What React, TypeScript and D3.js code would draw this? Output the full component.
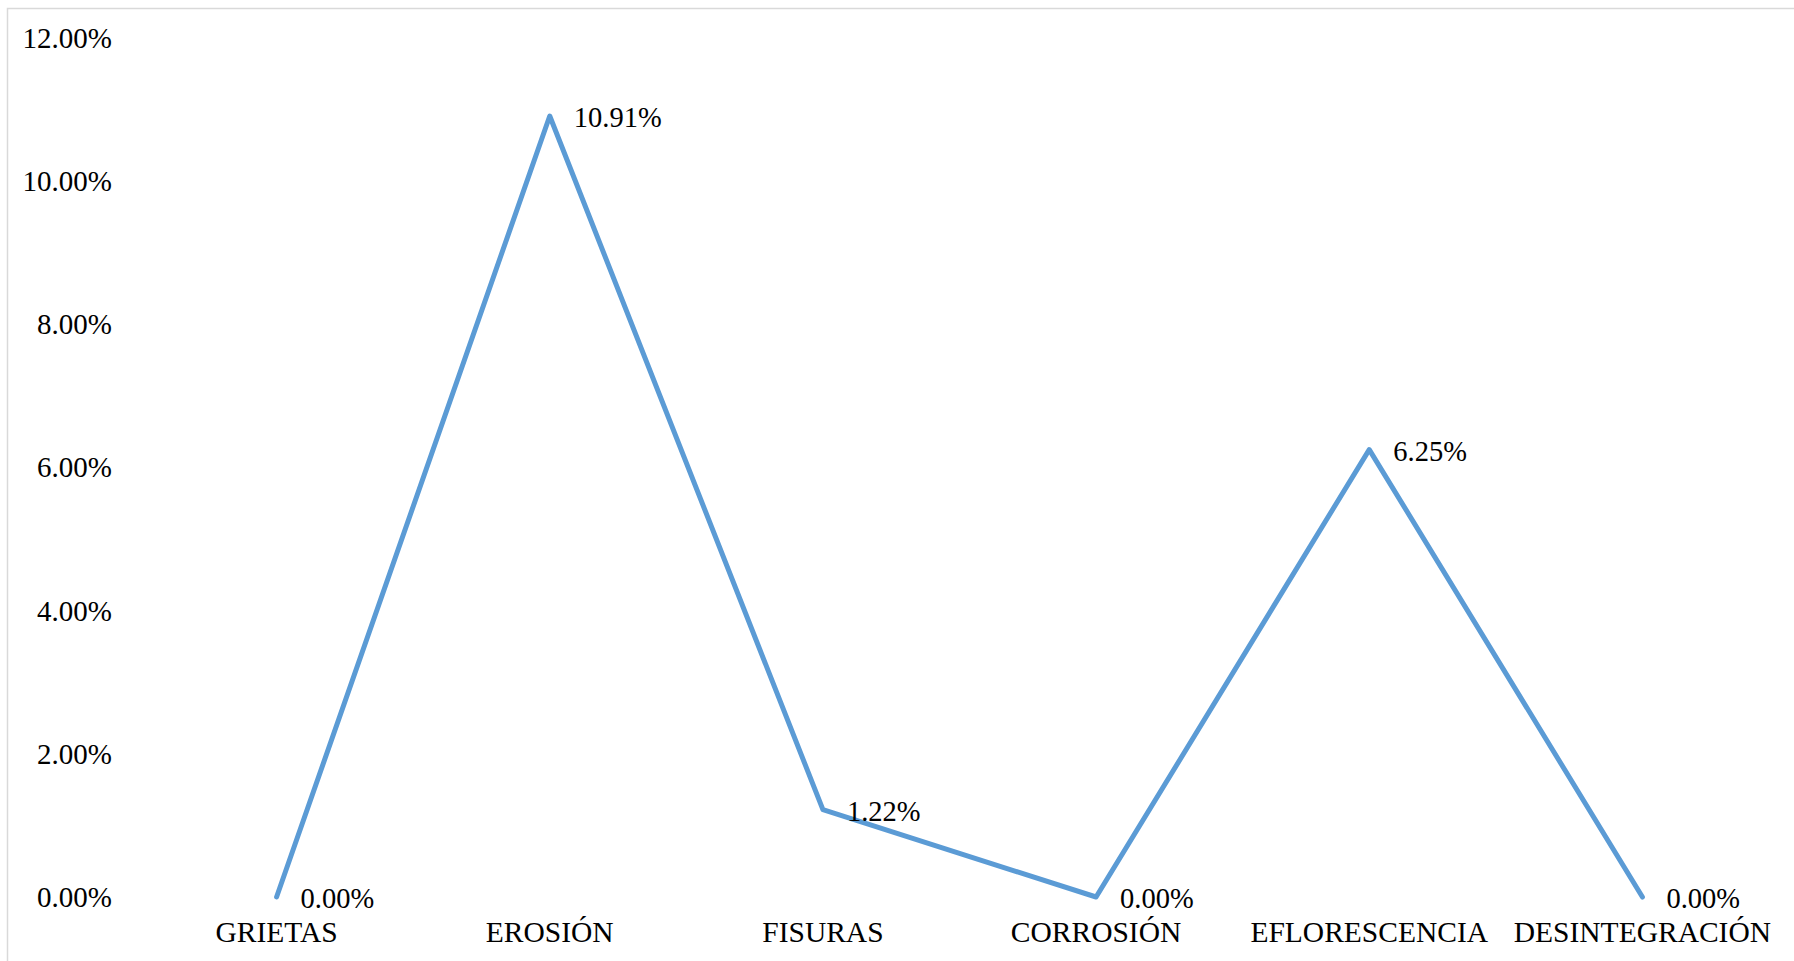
import React from "react";
import * as d3 from "d3";

const categories = ["GRIETAS", "EROSIÓN", "FISURAS", "CORROSIÓN", "EFLORESCENCIA", "DESINTEGRACIÓN"];
const values = [0.0, 10.91, 1.22, 0.0, 6.25, 0.0];
const yTicks = [0, 2, 4, 6, 8, 10, 12];

const W = 1794;
const H = 961;
const FONT = "'Liberation Serif', 'Times New Roman', serif";

export default function App() {
  const x = d3.scaleBand<string>().domain(categories).range([140, 1779]);
  const y = d3.scaleLinear().domain([0, 12]).range([897, 38]);
  const cx = (c: string) => (x(c) as number) + x.bandwidth() / 2;
  const line = d3
    .line<number>()
    .x((_, i) => cx(categories[i]))
    .y((d) => y(d));
  const fmt = (v: number) => v.toFixed(2) + "%";

  return (
    <div style={{ position: "fixed", left: 0, top: 0, width: W, height: H, background: "#fff" }}>
      <svg width={W} height={H} style={{ display: "block" }}>
        <rect x={0} y={0} width={W} height={H} fill="#fff" />
        <rect x={7.5} y={8.5} width={W + 20} height={H + 20} fill="none" stroke="#d9d9d9" strokeWidth={1.5} />
        {yTicks.map((t) => (
          <text
            key={t}
            x={112}
            y={y(t)}
            dy="0.34em"
            textAnchor="end"
            fontFamily={FONT}
            fontSize={29}
            fill="#000"
          >
            {t.toFixed(2) + "%"}
          </text>
        ))}
        {categories.map((c) => (
          <text
            key={c}
            x={cx(c)}
            y={942}
            textAnchor="middle"
            fontFamily={FONT}
            fontSize={29.5}
            fill="#000"
          >
            {c}
          </text>
        ))}
        <path
          d={line(values) as string}
          fill="none"
          stroke="#5B9BD5"
          strokeWidth={5}
          strokeLinejoin="round"
          strokeLinecap="round"
        />
        {values.map((v, i) => (
          <text
            key={i}
            x={cx(categories[i]) + 24}
            y={y(v) + 11}
            fontFamily={FONT}
            fontSize={28.5}
            fill="#000"
          >
            {fmt(v)}
          </text>
        ))}
      </svg>
    </div>
  );
}
